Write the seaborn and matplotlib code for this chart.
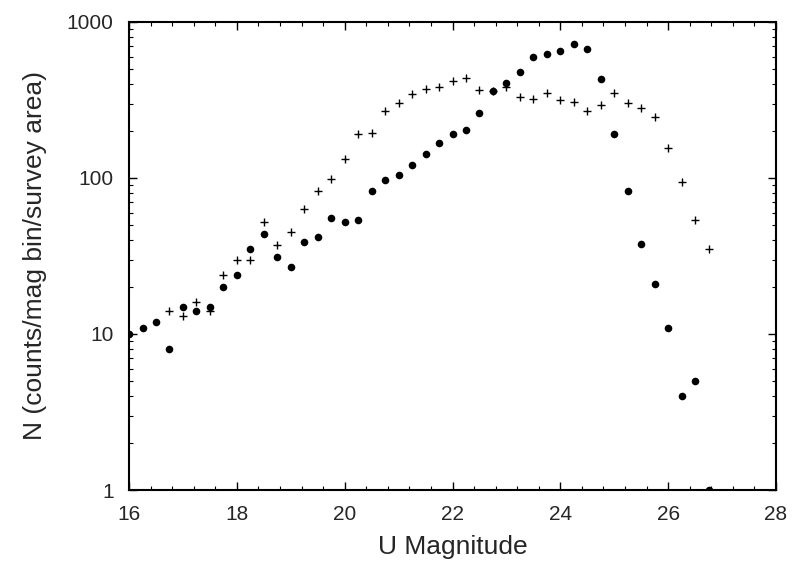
import matplotlib
matplotlib.use("Agg")
from matplotlib import pyplot as plt
from matplotlib.ticker import MultipleLocator, LogLocator, NullFormatter, FixedLocator
import pandas as pd
import seaborn as sns

# U band number counts, filled circles
mag_dots = [16.0, 16.25, 16.5, 16.75, 17.0, 17.25, 17.5, 17.75, 18.0, 18.25,
            18.5, 18.75, 19.0, 19.25, 19.5, 19.75, 20.0, 20.25, 20.5, 20.75,
            21.0, 21.25, 21.5, 21.75, 22.0, 22.25, 22.5, 22.75, 23.0, 23.25,
            23.5, 23.75, 24.0, 24.25, 24.5, 24.75, 25.0, 25.25, 25.5, 25.75,
            26.0, 26.25, 26.5, 26.75]
n_dots = [10, 11, 12, 8, 15, 14, 15, 20, 24, 35,
          44, 31, 27, 39, 42, 55, 52, 54, 83, 97,
          104, 122, 142, 168, 190, 204, 260, 363, 406, 481,
          597, 624, 655, 723, 668, 433, 190, 83, 38, 21,
          11, 4, 5, 1]

# second sample, plus signs
mag_plus = [16.75, 17.0, 17.25, 17.5, 17.75, 18.0, 18.25, 18.5, 18.75, 19.0,
            19.25, 19.5, 19.75, 20.0, 20.25, 20.5, 20.75, 21.0, 21.25, 21.5,
            21.75, 22.0, 22.25, 22.5, 22.75, 23.0, 23.25, 23.5, 23.75, 24.0,
            24.25, 24.5, 24.75, 25.0, 25.25, 25.5, 25.75, 26.0, 26.25, 26.5,
            26.75]
n_plus = [14, 13, 16, 14, 24, 30, 30, 52, 37, 45,
          63, 83, 98, 132, 191, 193, 269, 301, 344, 370,
          383, 421, 440, 367, 360, 381, 332, 321, 349, 316,
          307, 269, 294, 349, 304, 280, 245, 155, 94, 54,
          35]

df_dots = pd.DataFrame({"mag": mag_dots, "n": n_dots})
df_plus = pd.DataFrame({"mag": mag_plus, "n": n_plus})

sns.set_style("ticks")
plt.rcParams['font.family'] = ['Liberation Sans', 'DejaVu Sans']

fig = plt.figure(figsize=(7.93, 5.62), dpi=100)
ax = fig.add_axes([0.1627, 0.1281, 0.8159, 0.8328])

sns.scatterplot(ax=ax, data=df_plus, x="mag", y="n", marker="+",
                color="black", s=38, linewidth=1.0)
sns.scatterplot(ax=ax, data=df_dots, x="mag", y="n", marker="o",
                color="black", s=30, edgecolor="black", linewidth=0)

ax.set_yscale("log")
ax.set_xlim(16, 28)
ax.set_ylim(1, 1000)
ax.xaxis.set_major_locator(MultipleLocator(2))
ax.xaxis.set_minor_locator(MultipleLocator(0.4))
ax.yaxis.set_major_locator(FixedLocator([1, 10, 100, 1000]))
ax.yaxis.set_minor_locator(LogLocator(base=10, subs=range(2, 10)))
ax.yaxis.set_minor_formatter(NullFormatter())
ax.set_yticklabels(["1", "10", "100", "1000"])

for side in ["top", "right", "bottom", "left"]:
    ax.spines[side].set_visible(True)
    ax.spines[side].set_linewidth(1.5)
    ax.spines[side].set_color("black")

ax.tick_params(which="both", direction="in", top=True, right=True,
               color="black", labelsize=15)
ax.tick_params(which="major", length=6, width=1.0, pad=11)
ax.tick_params(which="minor", length=3, width=0.8)

ax.set_xlabel("U Magnitude", fontsize=19, labelpad=8)
ax.set_ylabel("N (counts/mag bin/survey area)", fontsize=19, labelpad=14)

fig.savefig("out.png", dpi=100)
